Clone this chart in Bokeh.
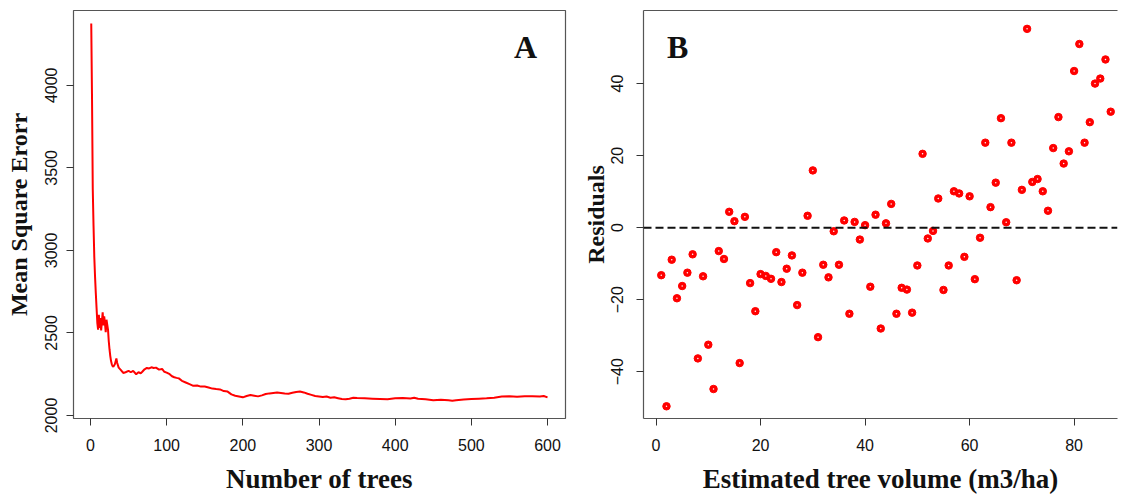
from bokeh.plotting import figure
from bokeh.layouts import row
from bokeh.models import Range1d, FixedTicker, Span, Label, LinearAxis
from bokeh.embed import file_html
from bokeh.resources import INLINE

# ---- Panel A: random forest error vs number of trees ----
ntrees = [1, 2, 3, 4, 5, 6, 7, 8, 9, 10, 11, 12, 13, 14, 15, 16, 17, 18, 19, 20,
          21, 22, 23, 24, 25, 26, 27, 28, 29, 30, 32, 34, 35, 37, 40, 43, 46, 50, 53, 56,
          60, 63, 66, 68, 71, 74, 77, 80, 83, 86, 90, 94, 97, 100, 104, 107, 110, 113, 116, 120,
          125, 130, 135, 140, 145, 150, 155, 160, 165, 170, 175, 180, 185, 190, 195, 200, 205, 210, 215, 220,
          225, 230, 235, 240, 245, 250, 255, 260, 265, 270, 275, 280, 285, 290, 295, 300, 305, 310, 315, 320,
          325, 330, 335, 340, 345, 350, 360, 370, 380, 390, 400, 410, 420, 425, 430, 440, 450, 460, 470, 475,
          480, 490, 500, 510, 520, 530, 540, 550, 560, 570, 580, 590, 595, 600]
mse = [4375, 3930, 3370, 3150, 2960, 2840, 2740, 2650, 2560, 2520, 2610, 2530, 2590, 2515, 2570, 2625, 2545, 2600, 2560, 2505,
       2580, 2550, 2520, 2450, 2400, 2360, 2330, 2310, 2300, 2295, 2310, 2345, 2320, 2290, 2275, 2258, 2262, 2270, 2262, 2270,
       2250, 2262, 2256, 2265, 2280, 2288, 2285, 2292, 2288, 2290, 2278, 2282, 2265, 2260, 2250, 2238, 2232, 2228, 2225, 2210,
       2200, 2190, 2180, 2182, 2175, 2176, 2170, 2163, 2160, 2158, 2148, 2145, 2128, 2120, 2115, 2110, 2118, 2124, 2120, 2116,
       2122, 2130, 2134, 2137, 2140, 2137, 2134, 2132, 2138, 2143, 2145, 2140, 2132, 2125, 2118, 2115, 2112, 2115, 2108, 2110,
       2105, 2100, 2098, 2102, 2108, 2106, 2104, 2102, 2100, 2098, 2104, 2106, 2103, 2108, 2102, 2098, 2093, 2096, 2092, 2090,
       2093, 2097, 2100, 2102, 2104, 2108, 2115, 2116, 2114, 2116, 2117, 2115, 2118, 2110]
a_xticks = [0, 100, 200, 300, 400, 500, 600]
a_yticks = [2000, 2500, 3000, 3500, 4000]

# ---- Panel B: residuals vs estimated tree volume ----
est_volume = [1, 2, 3, 4, 5, 6, 7, 8, 9, 10, 11, 12, 13, 14, 15, 16, 17, 18, 19, 20,
              21, 22, 23, 24, 25, 26, 27, 28, 29, 30, 31, 32, 33, 34, 35, 36, 37, 38, 39, 40,
              41, 42, 43, 44, 45, 46, 47, 48, 49, 50, 51, 52, 53, 54, 55, 56, 57, 58, 59, 60,
              61, 62, 63, 64, 65, 66, 67, 68, 69, 70, 71, 72, 73, 74, 75, 76, 77, 78, 79, 80,
              81, 82, 83, 84, 85, 86, 87]
residuals = [-13.2, -49.6, -8.9, -19.6, -16.2, -12.5, -7.4, -36.3, -13.5, -32.5,
             -44.8, -6.5, -8.7, 4.4, 1.8, -37.6, 3.0, -15.4, -23.2, -12.9,
             -13.4, -14.2, -6.8, -15.1, -11.4, -7.7, -21.5, -12.5, 3.3, 15.9,
             -30.4, -10.3, -13.8, -1.0, -10.3, 2.0, -23.9, 1.6, -3.3, 0.7,
             -16.4, 3.6, -28.0, 1.2, 6.6, -23.9, -16.7, -17.2, -23.6, -10.5,
             20.5, -3.0, -0.9, 8.1, -17.3, -10.5, 10.1, 9.5, -8.1, 8.7,
             -14.3, -2.8, 23.6, 5.7, 12.5, 30.4, 1.5, 23.6, -14.6, 10.5,
             55.2, 12.7, 13.5, 10.1, 4.7, 22.1, 30.7, 17.8, 21.2, 43.5,
             51.0, 23.6, 29.3, 40.0, 41.4, 46.7, 32.2]
b_xticks = [0, 20, 40, 60, 80]
b_yticks = [-40, -20, 0, 20, 40]

TITLE_FONT = "Liberation Serif"
TICK_FONT = "Liberation Sans"
FRAME = "#555555"


def style_axis(ax, ticks, label_standoff, title_standoff, vertical=False):
    ax.ticker = FixedTicker(ticks=ticks)
    ax.minor_tick_line_color = None
    ax.major_tick_in = 0
    ax.major_tick_out = 7
    ax.major_tick_line_color = "#333333"
    ax.major_label_text_font = TICK_FONT
    ax.major_label_text_font_size = "16px"
    ax.major_label_text_color = "#111111"
    ax.major_label_standoff = label_standoff
    ax.axis_label_standoff = title_standoff
    ax.axis_label_text_font = TITLE_FONT
    ax.axis_label_text_font_style = "bold"
    ax.axis_label_text_color = "#111111"
    if vertical:
        ax.major_label_orientation = "vertical"
        ax.axis_label_text_font_size = "24px"
    else:
        ax.axis_label_text_font_size = "27px"


# Panel A
pa = figure(width=577, height=496, output_backend="svg", toolbar_location=None,
            x_range=Range1d(-22.3, 623.6), y_range=Range1d(1981.9, 4453.2),
            min_border_left=73, min_border_right=12, min_border_top=10, min_border_bottom=77)
pa.grid.visible = False
pa.outline_line_color = FRAME
pa.outline_line_width = 1.2
pa.line(ntrees, mse, line_color="#FF0000", line_width=2)
style_axis(pa.xaxis[0], a_xticks, 13, 10)
style_axis(pa.yaxis[0], a_yticks, 9, 11, vertical=True)
pa.xaxis[0].axis_line_color = None
pa.yaxis[0].axis_line_color = None
pa.xaxis[0].axis_label = "Number of trees"
pa.yaxis[0].axis_label = "Mean Square Erorr"
pa.add_layout(Label(x=571, y=4232, text="A", text_font=TITLE_FONT, text_font_style="bold",
                    text_font_size="32px", text_align="center", text_baseline="alphabetic",
                    text_color="#111111"))

# Panel B
pb = figure(width=542, height=496, output_backend="svg", toolbar_location=None,
            x_range=Range1d(-2.4, 88.3), y_range=Range1d(-52.99, 60.3),
            min_border_left=66, min_border_right=2, min_border_top=10, min_border_bottom=77)
pb.grid.visible = False
pb.outline_line_color = None
style_axis(pb.xaxis[0], b_xticks, 13, 10)
style_axis(pb.yaxis[0], b_yticks, 13, 0, vertical=True)
pb.xaxis[0].axis_line_color = FRAME
pb.yaxis[0].axis_line_color = FRAME
pb.xaxis[0].axis_line_width = 1.2
pb.yaxis[0].axis_line_width = 1.2
pb.xaxis[0].axis_label = "Estimated tree volume (m3/ha)"
pb.yaxis[0].axis_label = "Residuals"
top = LinearAxis(ticker=FixedTicker(ticks=[]), axis_line_color=FRAME, axis_line_width=1.2,
                 major_tick_line_color=None, minor_tick_line_color=None,
                 major_label_text_color=None)
pb.add_layout(top, "above")
pb.add_layout(Span(location=0, dimension="width", line_color="#111111",
                   line_dash="8 4", line_width=2))
pb.scatter(est_volume, residuals, size=7.5, fill_color="#FF0000", line_color="#FF0000")
pb.scatter(est_volume, residuals, size=1.5, fill_color="white", line_color=None)
pb.add_layout(Label(x=4.15, y=50.2, text="B", text_font=TITLE_FONT, text_font_style="bold",
                    text_font_size="32px", text_align="center", text_baseline="alphabetic",
                    text_color="#111111"))

layout = row(pa, pb, spacing=0)
open("out.html", "w").write(file_html(layout, INLINE))
